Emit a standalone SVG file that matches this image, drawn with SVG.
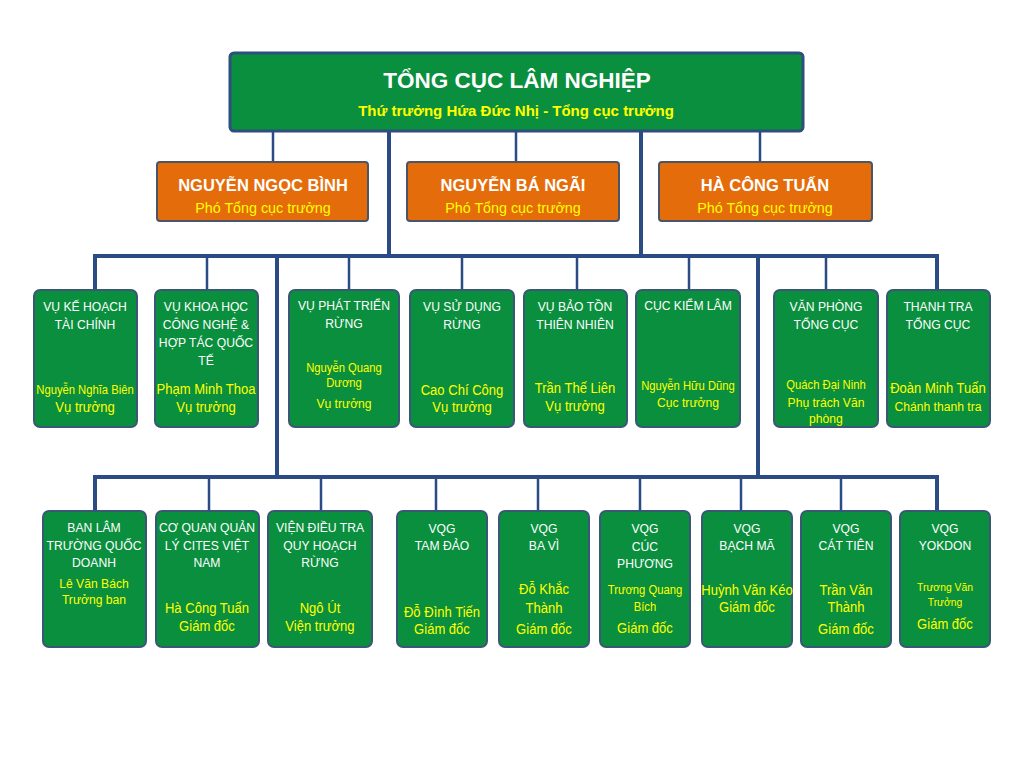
<svg xmlns="http://www.w3.org/2000/svg" width="1024" height="768" viewBox="0 0 1024 768">
<style>
.top{fill:#0a8f3e;stroke:#2e4e7e;stroke-width:3}
.org{fill:#e46c0b;stroke:#4a5668;stroke-width:2}
.box{fill:#0a8f3e;stroke:#3b5776;stroke-width:2}
text{font-family:'Liberation Sans',Arial,sans-serif;text-anchor:middle}
.t1{fill:#fff;font-weight:bold;font-size:22.5px}
.t2{fill:#ffff00;font-weight:bold;font-size:15px}
.on{fill:#fff;font-weight:bold;font-size:16.5px}
.op{fill:#ffff00;font-size:14.3px}
.h{fill:#fff;font-size:13.5px}
.n{fill:#ffff00;font-size:14.5px}
.s{fill:#ffff00;font-size:12.5px}
.m{fill:#ffff00;font-size:13.5px}
.x{fill:#ffff00;font-size:11.5px}
.thin{stroke:#2b4b85;stroke-width:2.5;fill:none}
.thick{stroke:#2b4b85;stroke-width:4;fill:none}
</style>
<rect width="1024" height="768" fill="#fff"/>
<g id="connectors">
<path class="thin" d="M273,131V162M516,131V162M760,131V162"/>
<path class="thick" d="M389,131V256M641,131V256"/>
<path class="thick" d="M95,290V256H937V290"/>
<path class="thin" d="M207,256V290M349,256V290M462,256V290M577,256V290M689,256V290M826,256V290"/>
<path class="thick" d="M277,256V477M758,256V477"/>
<path class="thick" d="M95,511V477H937V511"/>
<path class="thin" d="M209,477V511M321,477V511M436,477V511M538,477V511M640,477V511M741,477V511M841,477V511"/>
</g>
<g id="tong-cuc">
<rect class="top" x="230" y="53" width="573" height="78" rx="4"/>
<text class="t1" x="517" y="88">TỔNG CỤC LÂM NGHIỆP</text>
<text class="t2" x="516" y="116">Thứ trưởng Hứa Đức Nhị - Tổng cục trưởng</text>
</g>
<g id="pho-1">
<rect class="org" x="157" y="162" width="211" height="59" rx="3"/>
<text class="on" x="263" y="191">NGUYỄN NGỌC BÌNH</text>
<text class="op" x="263" y="213">Phó Tổng cục trưởng</text>
</g>
<g id="pho-2">
<rect class="org" x="407" y="162" width="212" height="59" rx="3"/>
<text class="on" x="513" y="191">NGUYỄN BÁ NGÃI</text>
<text class="op" x="513" y="213">Phó Tổng cục trưởng</text>
</g>
<g id="pho-3">
<rect class="org" x="659" y="162" width="213" height="59" rx="3"/>
<text class="on" x="765" y="191">HÀ CÔNG TUẤN</text>
<text class="op" x="765" y="213">Phó Tổng cục trưởng</text>
</g>
<g id="vu-khtc">
<rect class="box" x="34" y="290" width="103" height="137" rx="6"/>
<g transform="matrix(.9 0 0 1 8.5 0)">
<text class="h" x="85" y="311">VỤ KẾ HOẠCH</text>
<text class="h" x="85" y="329">TÀI CHÍNH</text>
<text class="s" x="85" y="394">Nguyễn Nghĩa Biên</text>
<text class="n" x="85" y="412">Vụ trưởng</text>
</g>
</g>
<g id="vu-khcn">
<rect class="box" x="155" y="290" width="103" height="137" rx="6"/>
<g transform="matrix(.9 0 0 1 20.6 0)">
<text class="h" x="206" y="311">VỤ KHOA HỌC</text>
<text class="h" x="206" y="329">CÔNG NGHỆ &amp;</text>
<text class="h" x="206" y="347">HỢP TÁC QUỐC</text>
<text class="h" x="206" y="365">TẾ</text>
<text class="n" x="206" y="394">Phạm Minh Thoa</text>
<text class="n" x="206" y="412">Vụ trưởng</text>
</g>
</g>
<g id="vu-ptr">
<rect class="box" x="289" y="290" width="110" height="137" rx="6"/>
<g transform="matrix(.9 0 0 1 34.4 0)">
<text class="h" x="344" y="310">VỤ PHÁT TRIỂN</text>
<text class="h" x="344" y="328">RỪNG</text>
<text class="s" x="344" y="372">Nguyễn Quang</text>
<text class="s" x="344" y="387">Dương</text>
<text class="m" x="344" y="408">Vụ trưởng</text>
</g>
</g>
<g id="vu-sdr">
<rect class="box" x="410" y="290" width="104" height="137" rx="6"/>
<g transform="matrix(.9 0 0 1 46.2 0)">
<text class="h" x="462" y="311">VỤ SỬ DỤNG</text>
<text class="h" x="462" y="329">RỪNG</text>
<text class="n" x="462" y="395">Cao Chí Công</text>
<text class="n" x="462" y="412">Vụ trưởng</text>
</g>
</g>
<g id="vu-btn">
<rect class="box" x="524" y="290" width="103" height="137" rx="6"/>
<g transform="matrix(.9 0 0 1 57.5 0)">
<text class="h" x="575" y="311">VỤ BẢO TỒN</text>
<text class="h" x="575" y="329">THIÊN NHIÊN</text>
<text class="n" x="575" y="393">Trần Thế Liên</text>
<text class="n" x="575" y="411">Vụ trưởng</text>
</g>
</g>
<g id="cuc-kl">
<rect class="box" x="636" y="290" width="104" height="137" rx="6"/>
<g transform="matrix(.9 0 0 1 68.8 0)">
<text class="h" x="688" y="310">CỤC KIỂM LÂM</text>
<text class="s" x="688" y="390">Nguyễn Hữu Dũng</text>
<text class="m" x="688" y="407">Cục trưởng</text>
</g>
</g>
<g id="van-phong">
<rect class="box" x="774" y="290" width="104" height="137" rx="6"/>
<g transform="matrix(.9 0 0 1 82.6 0)">
<text class="h" x="826" y="311">VĂN PHÒNG</text>
<text class="h" x="826" y="329">TỔNG CỤC</text>
<text class="s" x="826" y="389">Quách Đại Ninh</text>
<text class="m" x="826" y="407">Phụ trách Văn</text>
<text class="m" x="826" y="423">phòng</text>
</g>
</g>
<g id="thanh-tra">
<rect class="box" x="887" y="290" width="103" height="137" rx="6"/>
<g transform="matrix(.9 0 0 1 93.8 0)">
<text class="h" x="938" y="311">THANH TRA</text>
<text class="h" x="938" y="329">TỔNG CỤC</text>
<text class="n" x="938" y="393">Đoàn Minh Tuấn</text>
<text class="m" x="938" y="411">Chánh thanh tra</text>
</g>
</g>
<g id="ban-ltqd">
<rect class="box" x="43" y="511" width="103" height="136" rx="6"/>
<g transform="matrix(.9 0 0 1 9.4 0)">
<text class="h" x="94" y="532">BAN LÂM</text>
<text class="h" x="94" y="550">TRƯỜNG QUỐC</text>
<text class="h" x="94" y="567">DOANH</text>
<text class="m" x="94" y="588">Lê Văn Bách</text>
<text class="m" x="94" y="604">Trưởng ban</text>
</g>
</g>
<g id="cites">
<rect class="box" x="156" y="511" width="103" height="136" rx="6"/>
<g transform="matrix(.9 0 0 1 20.7 0)">
<text class="h" x="207" y="532">CƠ QUAN QUẢN</text>
<text class="h" x="207" y="550">LÝ CITES VIỆT</text>
<text class="h" x="207" y="567">NAM</text>
<text class="n" x="207" y="613">Hà Công Tuấn</text>
<text class="n" x="207" y="631">Giám đốc</text>
</g>
</g>
<g id="vien-dtqh">
<rect class="box" x="268" y="511" width="104" height="136" rx="6"/>
<g transform="matrix(.9 0 0 1 32 0)">
<text class="h" x="320" y="532">VIỆN ĐIỀU TRA</text>
<text class="h" x="320" y="550">QUY HOẠCH</text>
<text class="h" x="320" y="567">RỪNG</text>
<text class="n" x="320" y="613">Ngô Út</text>
<text class="n" x="320" y="631">Viện trưởng</text>
</g>
</g>
<g id="vqg-tam-dao">
<rect class="box" x="397" y="511" width="90" height="136" rx="6"/>
<g transform="matrix(.9 0 0 1 44.2 0)">
<text class="h" x="442" y="533">VQG</text>
<text class="h" x="442" y="550">TAM ĐẢO</text>
<text class="n" x="442" y="617">Đỗ Đình Tiến</text>
<text class="n" x="442" y="634">Giám đốc</text>
</g>
</g>
<g id="vqg-ba-vi">
<rect class="box" x="499" y="511" width="90" height="136" rx="6"/>
<g transform="matrix(.9 0 0 1 54.4 0)">
<text class="h" x="544" y="533">VQG</text>
<text class="h" x="544" y="550">BA VÌ</text>
<text class="n" x="544" y="594">Đỗ Khắc</text>
<text class="n" x="544" y="613">Thành</text>
<text class="n" x="544" y="634">Giám đốc</text>
</g>
</g>
<g id="vqg-cuc-phuong">
<rect class="box" x="600" y="511" width="90" height="136" rx="6"/>
<g transform="matrix(.9 0 0 1 64.5 0)">
<text class="h" x="645" y="533">VQG</text>
<text class="h" x="645" y="551">CÚC</text>
<text class="h" x="645" y="568">PHƯƠNG</text>
<text class="s" x="645" y="594">Trương Quang</text>
<text class="s" x="645" y="611">Bích</text>
<text class="n" x="645" y="633">Giám đốc</text>
</g>
</g>
<g id="vqg-bach-ma">
<rect class="box" x="702" y="511" width="90" height="136" rx="6"/>
<g transform="matrix(.9 0 0 1 74.7 0)">
<text class="h" x="747" y="533">VQG</text>
<text class="h" x="747" y="550">BẠCH MÃ</text>
<text class="n" x="747" y="595">Huỳnh Văn Kéo</text>
<text class="n" x="747" y="612">Giám đốc</text>
</g>
</g>
<g id="vqg-cat-tien">
<rect class="box" x="801" y="511" width="90" height="136" rx="6"/>
<g transform="matrix(.9 0 0 1 84.6 0)">
<text class="h" x="846" y="533">VQG</text>
<text class="h" x="846" y="550">CÁT TIÊN</text>
<text class="n" x="846" y="595">Trần Văn</text>
<text class="n" x="846" y="612">Thành</text>
<text class="n" x="846" y="634">Giám đốc</text>
</g>
</g>
<g id="vqg-yokdon">
<rect class="box" x="900" y="511" width="90" height="136" rx="6"/>
<g transform="matrix(.9 0 0 1 94.5 0)">
<text class="h" x="945" y="533">VQG</text>
<text class="h" x="945" y="550">YOKDON</text>
<text class="x" x="945" y="591">Trương Văn</text>
<text class="x" x="945" y="606">Trưởng</text>
<text class="n" x="945" y="629">Giám đốc</text>
</g>
</g>
</svg>
